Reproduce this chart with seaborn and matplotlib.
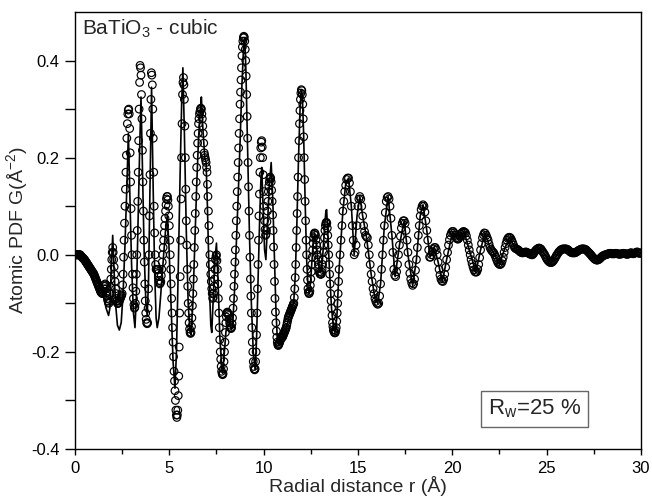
import numpy as np
import pandas as pd
import matplotlib
matplotlib.use("Agg")
import matplotlib.pyplot as plt
import seaborn as sns

# observed G(r), 0 - 13.975 A (step 0.025)
r_near = np.round(np.linspace(0, 13.975, 560), 3)
g_near = [
    0.0, 0.0, 0.0, 0.0, 0.0, 0.0, 0.0, 0.0, 0.0, 0.0, 0.0, 0.0, -0.002, -0.003, -0.004, -0.005, -0.006, -0.007, -0.008, -0.009,
    -0.01, -0.011, -0.013, -0.014, -0.016, -0.017, -0.019, -0.02, -0.022, -0.023, -0.025, -0.026, -0.028, -0.029, -0.031, -0.032, -0.034, -0.035, -0.037, -0.038,
    -0.04, -0.042, -0.045, -0.047, -0.05, -0.052, -0.055, -0.057, -0.06, -0.062, -0.065, -0.067, -0.07, -0.072, -0.075, -0.077, -0.078, -0.079, -0.08, -0.078,
    -0.075, -0.07, -0.065, -0.062, -0.06, -0.064, -0.07, -0.078, -0.085, -0.09, -0.095, -0.098, -0.1, -0.092, -0.08, -0.066, -0.05, -0.03, -0.01, 0.005,
    0.015, 0.005, -0.01, -0.025, -0.04, -0.055, -0.07, -0.08, -0.09, -0.095, -0.1, -0.1, -0.1, -0.098, -0.095, -0.092, -0.09, -0.088, -0.085, -0.083,
    -0.08, -0.062, -0.04, -0.005, 0.03, 0.065, 0.1, 0.135, 0.17, 0.205, 0.24, 0.27, 0.29, 0.298, 0.30, 0.29, 0.26, 0.21, 0.15, 0.095,
    0.04, 0.0, -0.04, -0.068, -0.09, -0.103, -0.11, -0.108, -0.1, -0.075, -0.04, 0.0, 0.05, 0.11, 0.17, 0.235, 0.3, 0.355, 0.39, 0.385,
    0.37, 0.33, 0.28, 0.215, 0.15, 0.09, 0.03, -0.015, -0.06, -0.095, -0.12, -0.133, -0.14, -0.142, -0.14, -0.11, -0.07, 0.0, 0.08, 0.165,
    0.25, 0.32, 0.375, 0.37, 0.35, 0.3, 0.24, 0.17, 0.1, 0.045, 0.0, -0.02, -0.03, -0.03, -0.03, -0.03, -0.03, -0.038, -0.045, -0.053,
    -0.06, -0.058, -0.055, -0.043, -0.03, -0.015, 0.0, 0.015, 0.03, 0.045, 0.06, 0.075, 0.09, 0.103, 0.115, 0.12, 0.12, 0.113, 0.1, 0.08,
    0.06, 0.03, 0.0, -0.03, -0.06, -0.09, -0.12, -0.15, -0.18, -0.21, -0.24, -0.26, -0.28, -0.3, -0.32, -0.33, -0.335, -0.33, -0.32, -0.29,
    -0.25, -0.19, -0.12, -0.045, 0.03, 0.115, 0.2, 0.27, 0.33, 0.355, 0.365, 0.35, 0.32, 0.265, 0.2, 0.135, 0.07, 0.02, -0.03, -0.065,
    -0.1, -0.12, -0.14, -0.153, -0.16, -0.162, -0.16, -0.148, -0.13, -0.105, -0.08, -0.05, -0.02, 0.015, 0.05, 0.085, 0.12, 0.15, 0.18, 0.205,
    0.23, 0.25, 0.27, 0.28, 0.29, 0.295, 0.30, 0.302, 0.30, 0.29, 0.28, 0.265, 0.25, 0.23, 0.21, 0.205, 0.2, 0.195, 0.19, 0.18,
    0.17, 0.145, 0.12, 0.09, 0.06, 0.03, 0.0, -0.02, -0.04, -0.055, -0.07, -0.08, -0.09, -0.088, -0.08, -0.065, -0.05, -0.03, -0.01, -0.003,
    0.0, -0.012, -0.03, -0.06, -0.09, -0.12, -0.15, -0.175, -0.2, -0.215, -0.23, -0.24, -0.245, -0.247, -0.245, -0.235, -0.22, -0.2, -0.18, -0.16,
    -0.14, -0.128, -0.12, -0.118, -0.12, -0.122, -0.125, -0.132, -0.14, -0.145, -0.15, -0.152, -0.15, -0.142, -0.13, -0.11, -0.09, -0.065, -0.04, -0.015,
    0.01, 0.04, 0.07, 0.1, 0.13, 0.16, 0.19, 0.22, 0.25, 0.28, 0.31, 0.335, 0.36, 0.385, 0.41, 0.428, 0.44, 0.447, 0.45, 0.448,
    0.44, 0.423, 0.4, 0.368, 0.33, 0.285, 0.24, 0.19, 0.14, 0.09, 0.04, -0.005, -0.05, -0.085, -0.12, -0.15, -0.18, -0.2, -0.22, -0.23,
    -0.235, -0.237, -0.235, -0.22, -0.2, -0.165, -0.12, -0.07, -0.02, 0.03, 0.08, 0.125, 0.17, 0.2, 0.22, 0.232, 0.235, 0.222, 0.2, 0.165,
    0.13, 0.1, 0.07, 0.052, 0.04, 0.042, 0.05, 0.068, 0.09, 0.11, 0.13, 0.142, 0.15, 0.157, 0.16, 0.157, 0.15, 0.133, 0.11, 0.082,
    0.05, 0.016, -0.02, -0.055, -0.09, -0.118, -0.14, -0.157, -0.17, -0.18, -0.185, -0.187, -0.185, -0.183, -0.18, -0.177, -0.175, -0.172, -0.17, -0.17,
    -0.17, -0.167, -0.165, -0.162, -0.16, -0.157, -0.155, -0.152, -0.15, -0.145, -0.14, -0.135, -0.13, -0.127, -0.125, -0.122, -0.12, -0.117, -0.115, -0.112,
    -0.11, -0.107, -0.105, -0.102, -0.1, -0.088, -0.07, -0.047, -0.02, 0.015, 0.05, 0.085, 0.12, 0.16, 0.2, 0.235, 0.27, 0.297, 0.32, 0.333,
    0.34, 0.338, 0.33, 0.31, 0.28, 0.243, 0.2, 0.155, 0.11, 0.07, 0.03, 0.0, -0.03, -0.052, -0.07, -0.077, -0.08, -0.079, -0.075, -0.063,
    -0.05, -0.035, -0.02, -0.005, 0.01, 0.023, 0.035, 0.042, 0.045, 0.044, 0.04, 0.031, 0.02, 0.01, 0.0, -0.01, -0.02, -0.028, -0.035, -0.038,
    -0.04, -0.04, -0.04, -0.036, -0.03, -0.02, -0.01, 0.005, 0.02, 0.035, 0.05, 0.06, 0.065, 0.067, 0.065, 0.055, 0.04, 0.02, 0.0, -0.02,
    -0.04, -0.06, -0.08, -0.095, -0.11, -0.125, -0.14, -0.148, -0.155, -0.158, -0.16, -0.161, -0.16, -0.156, -0.15, -0.137, -0.12, -0.1, -0.08, -0.055,
]

# observed G(r), 14 - 30 A (step 0.05)
r_far = np.round(np.linspace(14.0, 30.0, 321), 3)
g_far = [
    -0.03, 0.0, 0.03, 0.06, 0.09, 0.11, 0.13, 0.143, 0.155, 0.158, 0.158, 0.148, 0.13, 0.1, 0.06, 0.03, 0.0, 0.005, 0.02, 0.06,
    0.1, 0.115, 0.12, 0.115, 0.1, 0.08, 0.06, 0.048, 0.04, 0.037, 0.035, 0.02, 0.0, -0.02, -0.04, -0.055, -0.07, -0.08, -0.09, -0.096,
    -0.1, -0.102, -0.1, -0.085, -0.06, -0.03, 0.0, 0.03, 0.06, 0.087, 0.11, 0.118, 0.12, 0.115, 0.1, 0.075, 0.04, 0.005, -0.03, -0.042,
    -0.045, -0.035, -0.02, 0.0, 0.02, 0.038, 0.055, 0.065, 0.07, 0.07, 0.065, 0.05, 0.03, 0.005, -0.02, -0.038, -0.05, -0.058, -0.063, -0.06,
    -0.05, -0.032, -0.01, 0.015, 0.04, 0.06, 0.08, 0.093, 0.1, 0.103, 0.1, 0.088, 0.07, 0.05, 0.03, 0.01, -0.005, -0.005, 0.0, 0.006,
    0.012, 0.015, 0.015, 0.01, 0.0, -0.015, -0.03, -0.042, -0.05, -0.054, -0.055, -0.05, -0.04, -0.026, -0.01, 0.005, 0.02, 0.031, 0.04, 0.045,
    0.048, 0.048, 0.045, 0.04, 0.035, 0.033, 0.032, 0.034, 0.038, 0.042, 0.045, 0.047, 0.048, 0.047, 0.045, 0.039, 0.03, 0.02, 0.01, 0.0,
    -0.01, -0.018, -0.025, -0.031, -0.035, -0.036, -0.035, -0.03, -0.02, -0.006, 0.01, 0.023, 0.035, 0.041, 0.045, 0.044, 0.04, 0.035, 0.03, 0.022,
    0.015, 0.011, 0.008, 0.006, 0.004, 0.0, -0.005, -0.01, -0.015, -0.018, -0.02, -0.02, -0.018, -0.012, -0.005, 0.005, 0.015, 0.023, 0.03, 0.034,
    0.036, 0.036, 0.034, 0.03, 0.025, 0.02, 0.015, 0.013, 0.012, 0.011, 0.01, 0.008, 0.006, 0.005, 0.004, 0.004, 0.005, 0.005, 0.006, 0.005,
    0.004, 0.003, 0.002, 0.001, 0.0, 0.0, 0.002, 0.005, 0.008, 0.01, 0.012, 0.013, 0.014, 0.013, 0.012, 0.009, 0.006, 0.003, 0.0, -0.004,
    -0.008, -0.011, -0.013, -0.015, -0.016, -0.016, -0.015, -0.013, -0.01, -0.007, -0.003, 0.0, 0.003, 0.006, 0.008, 0.01, 0.011, 0.012, 0.012, 0.012,
    0.012, 0.012, 0.011, 0.01, 0.008, 0.006, 0.005, 0.004, 0.004, 0.004, 0.004, 0.005, 0.006, 0.008, 0.009, 0.01, 0.011, 0.012, 0.012, 0.012,
    0.012, 0.011, 0.01, 0.008, 0.006, 0.004, 0.002, 0.0, -0.003, -0.005, -0.007, -0.009, -0.01, -0.011, -0.011, -0.01, -0.009, -0.007, -0.005, -0.003,
    -0.002, -0.001, 0.0, 0.0, 0.001, 0.002, 0.002, 0.003, 0.003, 0.002, 0.002, 0.002, 0.002, 0.003, 0.003, 0.002, 0.002, 0.001, 0.001, 0.002,
    0.002, 0.003, 0.003, 0.002, 0.002, 0.001, 0.001, 0.002, 0.003, 0.004, 0.004, 0.003, 0.002, 0.003, 0.004, 0.005, 0.006, 0.005, 0.003, 0.003,
    0.004,
]

# calculated (cubic model) G(r)
calc_r = [
    0, 0.5, 0.8, 1.0, 1.3, 1.5, 1.65, 1.78, 1.85, 1.92, 2.0, 2.06, 2.15, 2.25, 2.35, 2.45, 2.55, 2.65, 2.75, 2.83,
    2.9, 3.0, 3.1, 3.18, 3.26, 3.35, 3.43, 3.5, 3.58, 3.67, 3.76, 3.83, 3.9, 3.98, 4.06, 4.13, 4.22, 4.3, 4.36, 4.45,
    4.55, 4.7, 4.8, 4.89, 4.98, 5.08, 5.2, 5.3, 5.38, 5.48, 5.58, 5.66, 5.72, 5.8, 5.9, 6.0, 6.1, 6.15, 6.25, 6.35,
    6.45, 6.55, 6.65, 6.7, 6.78, 6.88, 6.95, 7.02, 7.12, 7.2, 7.25, 7.32, 7.42, 7.5, 7.58, 7.68, 7.78, 7.83, 7.92, 8.0,
    8.1, 8.18, 8.28, 8.35, 8.45, 8.55, 8.65, 8.75, 8.85, 8.95, 9.0, 9.06, 9.15, 9.25, 9.35, 9.45, 9.55, 9.62, 9.7, 9.78,
    9.85, 9.9, 9.97, 10.05, 10.12, 10.2, 10.3, 10.4, 10.48, 10.57, 10.65, 10.72, 10.8, 10.9, 11.0, 11.1, 11.2, 11.3, 11.4, 11.5,
    11.6, 11.68, 11.76, 11.85, 11.93, 12.0, 12.05, 12.12, 12.2, 12.28, 12.36, 12.42, 12.5, 12.6, 12.7, 12.8, 12.9, 13.02, 13.12, 13.22,
    13.3, 13.34, 13.42, 13.5, 13.6, 13.7, 13.78, 13.88, 14.0, 14.2, 14.35, 14.5, 14.65, 14.8, 14.95, 15.1, 15.25, 15.45, 15.7, 15.9,
    16.05, 16.2, 16.4, 16.6, 16.8, 16.97, 17.2, 17.45, 17.65, 17.9, 18.1, 18.3, 18.45, 18.65, 18.82, 19.05, 19.25, 19.47, 19.7, 20.02,
    20.3, 20.62, 20.9, 21.25, 21.5, 21.73, 22.0, 22.2, 22.5, 22.8, 23.05, 23.3, 23.6, 24.0, 24.2, 24.6, 24.9, 25.25, 25.6, 25.95,
    26.4, 26.95, 27.3, 27.7, 28.1, 28.4, 29.0, 29.5, 29.8, 30.0,
]
calc_g = [
    0, -0.005, -0.02, -0.035, -0.065, -0.085, -0.11, -0.125, -0.11, -0.03, 0.04, -0.02, -0.1, -0.145, -0.155, -0.14, -0.08, 0.02, 0.14, 0.25,
    0.14, -0.02, -0.12, -0.15, -0.08, 0.08, 0.22, 0.325, 0.17, 0.0, -0.1, -0.125, -0.05, 0.15, 0.345, 0.17, -0.03, -0.13, -0.15, -0.13,
    -0.08, 0.0, 0.05, 0.08, 0.02, -0.09, -0.22, -0.275, -0.2, -0.02, 0.18, 0.32, 0.385, 0.25, 0.05, -0.1, -0.16, -0.165, -0.1, 0.02,
    0.14, 0.24, 0.3, 0.325, 0.26, 0.2, 0.19, 0.1, -0.06, -0.145, -0.16, -0.1, -0.01, 0.024, -0.05, -0.17, -0.235, -0.244, -0.2, -0.16,
    -0.13, -0.13, -0.155, -0.15, -0.08, 0.02, 0.12, 0.23, 0.35, 0.44, 0.447, 0.38, 0.22, 0.04, -0.1, -0.2, -0.237, -0.18, -0.06, 0.06,
    0.15, 0.18, 0.1, 0.01, -0.01, 0.06, 0.14, 0.19, 0.12, 0.0, -0.11, -0.17, -0.185, -0.175, -0.17, -0.16, -0.15, -0.135, -0.12, -0.11,
    -0.095, -0.04, 0.06, 0.2, 0.3, 0.34, 0.33, 0.25, 0.11, -0.01, -0.07, -0.08, -0.05, 0.01, 0.045, 0.02, -0.02, -0.035, -0.01, 0.05,
    0.09, 0.093, 0.03, -0.04, -0.11, -0.15, -0.16, -0.13, -0.03, 0.09, 0.145, 0.158, 0.1, 0.0, 0.08, 0.12, 0.08, 0.037, -0.04, -0.09,
    -0.1, -0.06, 0.06, 0.12, 0.04, -0.045, 0.02, 0.07, 0.0, -0.063, -0.01, 0.08, 0.103, 0.05, -0.005, 0.015, -0.015, -0.056, -0.01, 0.048,
    0.032, 0.048, 0.01, -0.036, 0.01, 0.045, 0.015, 0.004, -0.02, 0.015, 0.036, 0.015, 0.006, 0.004, 0.0, 0.014, 0.0, -0.016, 0.003, 0.012,
    0.004, 0.012, 0.002, -0.011, 0.0, 0.003, 0.002, 0.004, 0.006, 0.004,
]

obs = pd.DataFrame({"r": np.concatenate([r_near, r_far]), "G": g_near + g_far})
calc = pd.DataFrame({"r": calc_r, "G": calc_g})

sns.set_style("ticks")
plt.rcParams["font.family"] = ["Liberation Sans", "DejaVu Sans"]
plt.rcParams["mathtext.fontset"] = "custom"
plt.rcParams["mathtext.rm"] = "Liberation Sans"
plt.rcParams["mathtext.it"] = "Liberation Sans"

fig, ax = plt.subplots(figsize=(6.52, 5.0), dpi=100)
fig.subplots_adjust(left=0.115, right=0.983, bottom=0.102, top=0.976)

sns.lineplot(data=calc, x="r", y="G", sort=False, color="black", linewidth=1.2, ax=ax)
sns.scatterplot(data=obs, x="r", y="G", marker="o", s=30, facecolor="none",
                edgecolor="black", linewidth=0.85, ax=ax)

ax.set_xlim(0, 30)
ax.set_ylim(-0.4, 0.5)
ax.set_xticks([0, 5, 10, 15, 20, 25, 30])
ax.set_xticks(np.arange(2.5, 30, 5), minor=True)
ax.set_yticks([-0.4, -0.2, 0.0, 0.2, 0.4])
ax.set_yticklabels(["-0.4", "-0.2", "0.0", "0.2", "0.4"])
ax.set_yticks([-0.3, -0.1, 0.1, 0.3], minor=True)
ax.tick_params(axis="both", which="both", direction="out", color="black", width=1,
               labelsize=12, labelcolor="black")
ax.tick_params(axis="x", which="major", length=4.5, pad=4)
ax.tick_params(axis="x", which="minor", length=3.5)
ax.tick_params(axis="y", which="both", length=7, pad=4)
for sp in ax.spines.values():
    sp.set_visible(True)
    sp.set_color("black")
    sp.set_linewidth(1)

ax.set_xlabel("Radial distance r (Å)", fontsize=14, labelpad=0)
ax.set_ylabel("Atomic PDF G(Å$^{-2}$)", fontsize=14, labelpad=1)

ax.text(0.012, 0.986, "BaTiO$_3$ - cubic", transform=ax.transAxes, ha="left", va="top", fontsize=15)
ax.text(0.812, 0.092, "R$_w$=25 %", transform=ax.transAxes, ha="center", va="center", fontsize=16,
        bbox=dict(boxstyle="square,pad=0.3", facecolor="white", edgecolor="#666666", linewidth=1))

fig.savefig("out.png", dpi=100)
